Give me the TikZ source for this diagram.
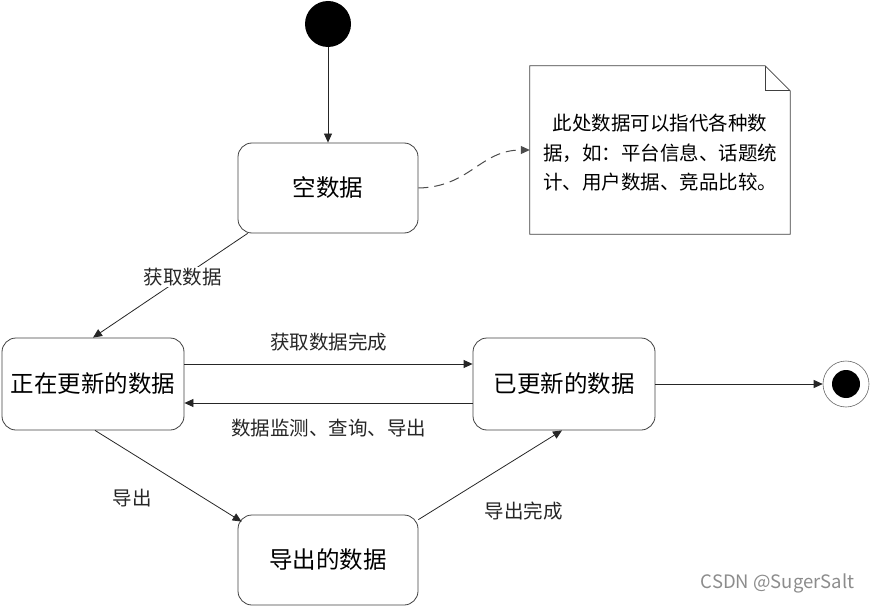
\documentclass[tikz,border=0pt]{standalone}
\usepackage{fontspec}
\newfontfamily\cjk{Noto Sans CJK SC}
\usetikzlibrary{arrows.meta,positioning}

\tikzset{
  state/.style={draw=black!75, line width=0.8pt, rounded corners=14pt,
    minimum width=180pt, minimum height=90pt, font=\cjk\fontsize{23.5}{26}\selectfont},
  trans/.style={-{Triangle[length=9pt,width=8pt]}, line width=0.8pt, black!85},
  lbl/.style={font=\cjk\fontsize{19.5}{22}\selectfont, inner sep=1pt}
}

\begin{document}
\begin{tikzpicture}[x=1pt, y=-1pt]

\useasboundingbox (0,0) rectangle (870,607);

% states
\node [circle, fill=black, minimum size=46pt, inner sep=0pt] (init) at (328,24) {};
\node [state] (empty) at (328,188) {空数据};
\node [state, minimum width=182pt, minimum height=92pt, inner sep=2pt] (updating) at (93,384) {正在更新的数据};
\node [state, minimum width=182pt, minimum height=92pt] (updated) at (564,384) {已更新的数据};
\node [state] (exported) at (328,560) {导出的数据};
\node [circle, draw=black!60, line width=0.6pt, minimum size=46pt, inner sep=0pt] (final) at (846,384) {};
\node [circle, fill=black, minimum size=28pt, inner sep=0pt] at (final) {};

% note
\node [minimum width=260pt, minimum height=168pt] (note) at (660,150) {};
\node [align=center, font=\cjk\fontsize{19.5}{29.5}\selectfont] (notetext)
  at ([yshift=-3pt]note.center)
  {此处数据可以指代各种数\\据，如：平台信息、话题统\\计、用户数据、竞品比较。};
\draw [black!75, line width=0.8pt] (note.south west) -- (note.north west)
  -- ([xshift=-25pt]note.north east) -- ([yshift=-25pt]note.north east)
  -- (note.south east) -- cycle;
\draw [black!75, line width=0.8pt] ([xshift=-25pt]note.north east)
  -- ([xshift=-25pt,yshift=-25pt]note.north east) -- ([yshift=-25pt]note.north east);

% transitions
\draw [trans] (init) -- (empty.north);
\draw [trans, dashed, dash pattern=on 10pt off 6pt, black!70, line width=1pt] (empty.east)
  .. controls (470,187) and (480,150) .. (note.west);
\draw [trans] ([xshift=10pt]empty.south west) -- (updating.north)
  node [lbl, pos=0.42, fill=white] {获取数据};
\draw [trans] ([yshift=20pt]updating.east) -- ([yshift=20pt]updated.west)
  node [lbl, midway, above=11pt] {获取数据完成};
\draw [trans] ([yshift=-19pt]updated.west) -- ([yshift=-19pt]updating.east)
  node [lbl, midway, below=15pt] {数据监测、查询、导出};
\draw [trans] (updated.east) -- (final.west);
\draw [trans] ([xshift=2pt]updating.south) -- ([xshift=4pt,yshift=-7pt]exported.north west)
  node [lbl, pos=0.45, anchor=north east, xshift=-8pt, yshift=-16pt] {导出};
\draw [trans] ([yshift=-5pt]exported.north east) -- ([xshift=-2pt]updated.south)
  node [lbl, pos=0.3, anchor=north west, xshift=22pt, yshift=-8pt] {导出完成};

% watermark
\node [anchor=east, text=black!45, font=\cjk\fontsize{18.5}{20}\selectfont] (mark) at (858,583) {CSDN @SugerSalt};

\end{tikzpicture}
\end{document}
